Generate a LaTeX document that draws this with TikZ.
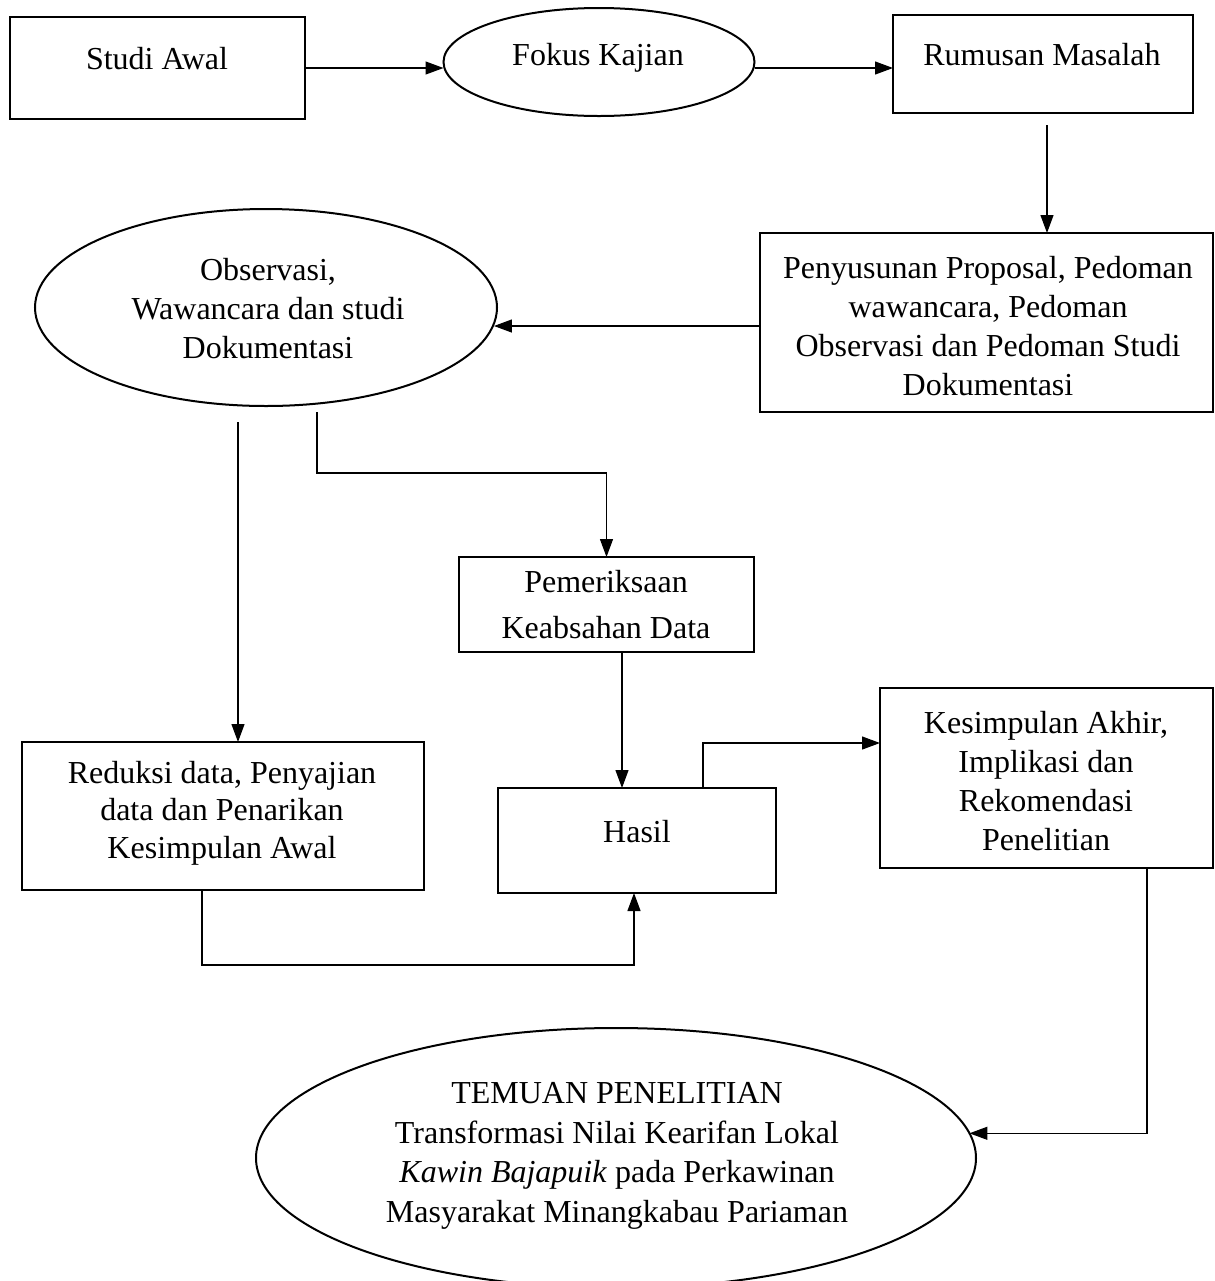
\documentclass[tikz,border=0pt]{standalone}
\usepackage{fontspec}
\setmainfont{Liberation Serif}
\usetikzlibrary{shapes.geometric,arrows.meta}
\begin{document}
\begin{tikzpicture}[x=0.5pt,y=-0.5pt,
  box/.style={draw,line width=1.1pt,inner sep=0pt,outer sep=0pt},
  oval/.style={draw,ellipse,line width=1pt,inner sep=0pt,outer sep=0pt},
  txt/.style={align=center,inner sep=0pt,font=\fontsize{16}{19.5}\selectfont},
  arr/.style={line width=0.6pt,-{Triangle[length=9pt,width=6.5pt]}}]
\useasboundingbox (0,0) rectangle (1215,1281);
% shapes
\node[box,minimum width=147.5pt,minimum height=51pt] (studi) at (157.5,68) {};
\node[oval,minimum width=155.5pt,minimum height=54pt] (fokus) at (599,62) {};
\node[box,minimum width=150pt,minimum height=49pt] (rumusan) at (1043,64) {};
\node[box,minimum width=226.5pt,minimum height=89.5pt] (penyusunan) at (986.5,322.5) {};
\node[oval,minimum width=231pt,minimum height=98.5pt] (obs) at (266,307.5) {};
\node[box,minimum width=147.5pt,minimum height=47.5pt] (pemeriksaan) at (606.5,604.5) {};
\node[box,minimum width=201pt,minimum height=74pt] (reduksi) at (223,816) {};
\node[box,minimum width=139pt,minimum height=52.5pt] (hasil) at (637,840.5) {};
\node[box,minimum width=166.5pt,minimum height=90pt] (kesimpulan) at (1046.5,778) {};
\node[oval,minimum width=360pt,minimum height=130pt] (temuan) at (616,1158) {};
% texts
\node[txt] (tstudi) at (157,59) {Studi Awal};
\node[txt] (tfokus) at (598,58) {Fokus Kajian};
\node[txt] (trumusan) at (1042,55) {Rumusan Masalah};
\node[txt] (tpenyusunan) at (988,326) {Penyusunan Proposal, Pedoman\\wawancara, Pedoman\\Observasi dan Pedoman Studi\\Dokumentasi};
\node[txt] (tobs) at (268,309) {Observasi,\\Wawancara dan studi\\Dokumentasi};
\node[txt,font=\fontsize{16}{23}\selectfont] (tpemeriksaan) at (606,605) {Pemeriksaan\\Keabsahan Data};
\node[txt,font=\fontsize{16}{18.8}\selectfont] (treduksi) at (222,813) {Reduksi data, Penyajian\\data dan Penarikan\\Kesimpulan Awal};
\node[txt] (thasil) at (637,832) {Hasil};
\node[txt] (tkesimpulan) at (1046,781) {Kesimpulan Akhir,\\Implikasi dan\\Rekomendasi\\Penelitian};
\node[txt,font=\fontsize{16}{19.8}\selectfont] (ttemuan) at (617,1156) {TEMUAN PENELITIAN\\Transformasi Nilai Kearifan Lokal\\\textit{Kawin Bajapuik} pada Perkawinan\\Masyarakat Minangkabau Pariaman};
% helper coordinates
\coordinate (r1) at (1047,125);
\coordinate (ya) at (0,326);
\coordinate (o1) at (238,422);
\coordinate (o2) at (317,412);
\coordinate (xp) at (622,0);
\coordinate (xr) at (202,965);
\coordinate (xh) at (703,743);
\coordinate (xk) at (1147,0);
% connectors
\draw[arr] (studi.east) -- (fokus.west |- studi.east);
\draw[arr] (fokus.east |- studi.east) -- (rumusan.west |- studi.east);
\draw[arr] (r1) -- (r1 |- penyusunan.north);
\draw[arr] (penyusunan.west |- ya) -- (obs.-4.7 |- ya);
\draw[arr] (o1) -- (o1 |- reduksi.north);
\draw[arr] (o2) -- ++(0,61) -| (pemeriksaan.north);
\draw[arr] (pemeriksaan.south -| xp) -- (xp |- hasil.north);
\draw[arr] (reduksi.south -| xr) -- (xr) -| ([xshift=-1.5pt]hasil.south);
\draw[arr] (hasil.north -| xh) |- (kesimpulan.west |- xh);
\draw[arr] (kesimpulan.south -| xk) |- (temuan.4.5);
\end{tikzpicture}
\end{document}
